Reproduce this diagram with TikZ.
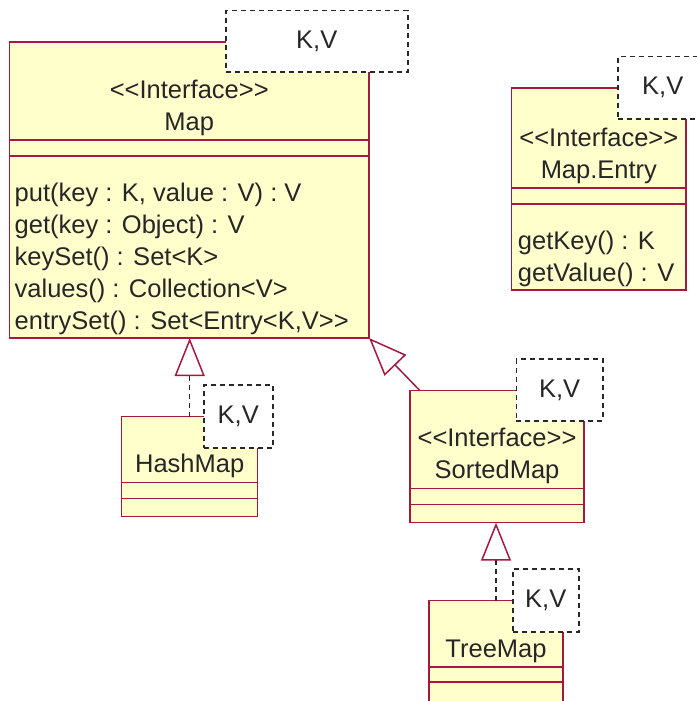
\documentclass[tikz,border=0pt]{standalone}
\usepackage{fontspec}
\setmainfont{Liberation Sans}
\usetikzlibrary{positioning,arrows.meta}
\definecolor{umlred}{RGB}{165,25,65}
\definecolor{umlfill}{RGB}{255,255,204}
\definecolor{tmplgray}{RGB}{40,40,40}
\tikzset{
  part/.style={draw=umlred, fill=umlfill, line width=1.5pt, inner sep=0pt, outer sep=0pt},
  cname/.style={anchor=south, align=center, inner xsep=0pt, inner ysep=4.5pt},
  ops/.style={anchor=south west, align=left, inner xsep=5pt, inner ysep=2.7pt},
  tparam/.style={draw=tmplgray, dash pattern=on 5pt off 4pt, line width=1.5pt, fill=white, anchor=north west, inner sep=0pt},
  realize/.style={draw=tmplgray, dash pattern=on 5pt off 4pt, line width=1.5pt, -{Triangle[length=38pt, width=30pt, color=umlred, fill=white]}},
  extends/.style={draw=umlred, line width=1.5pt, -{Triangle[length=38pt, width=30pt, fill=white]}}
}
\begin{document}
\begin{tikzpicture}[x=1pt, y=-1pt, font=\fontsize{25.5}{32}\selectfont, text=black!85]
  \useasboundingbox (0,0) rectangle (696,701);
  % Map
  \node(mapname)[part, anchor=north west, minimum width=359.5pt, minimum height=98pt] at (9.5,42) {};
  \node(mapattr)[part, below=0pt of mapname, minimum width=359.5pt, minimum height=16pt] {};
  \node(mapops)[part, below=0pt of mapattr, minimum width=359.5pt, minimum height=182pt] {};
  \node(maptitle)[cname] at (mapname.south) {<{}<Interface>{}>\\Map};
  \node(mapmeth)[ops] at (mapops.south west) {put(key : K, value : V) : V\\get(key : Object) : V\\keySet() : Set<K>\\values() : Collection<V>\\entrySet() : Set<Entry<K,V>{}>};
  \node(mapkv)[tparam, minimum width=182pt, minimum height=61pt] at (225,10) {K,V};
  % Map.Entry
  \node(entname)[part, anchor=north west, minimum width=174.3pt, minimum height=100pt] at (511.7,88) {};
  \node(entattr)[part, below=0pt of entname, minimum width=174.3pt, minimum height=16pt] {};
  \node(entops)[part, below=0pt of entattr, minimum width=174.3pt, minimum height=86pt] {};
  \node(enttitle)[cname] at (entname.south) {<{}<Interface>{}>\\Map.Entry};
  \node(entmeth)[ops, inner xsep=6pt] at (entops.south west) {getKey() : K\\getValue() : V};
  \node(entkv)[tparam, minimum width=90pt, minimum height=62pt] at (617,56) {K,V};
  % HashMap
  \node(hmname)[part, anchor=north west, minimum width=136pt, minimum height=66pt] at (121.7,416.7) {};
  \node(hmattr)[part, below=0pt of hmname, minimum width=136pt, minimum height=15.6pt] {};
  \node(hmops)[part, below=0pt of hmattr, minimum width=136pt, minimum height=18.4pt] {};
  \node(hmtitle)[cname] at (hmname.south) {HashMap};
  \node(hmkv)[tparam, minimum width=69pt, minimum height=63pt] at (203,384) {K,V};
  % SortedMap
  \node(smname)[part, anchor=north west, minimum width=174pt, minimum height=98pt] at (410,390.7) {};
  \node(smattr)[part, below=0pt of smname, minimum width=174pt, minimum height=15.6pt] {};
  \node(smops)[part, below=0pt of smattr, minimum width=174pt, minimum height=18.4pt] {};
  \node(smtitle)[cname] at (smname.south) {<{}<Interface>{}>\\SortedMap};
  \node(smkv)[tparam, minimum width=86.3pt, minimum height=61.7pt] at (515.7,358.3) {K,V};
  % TreeMap
  \node(tmname)[part, anchor=north west, minimum width=134pt, minimum height=66.3pt] at (429,600.7) {};
  \node(tmattr)[part, below=0pt of tmname, minimum width=134pt, minimum height=15pt] {};
  \node(tmops)[part, below=0pt of tmattr, minimum width=134pt, minimum height=20pt] {};
  \node(tmtitle)[cname] at (tmname.south) {TreeMap};
  \node(tmkv)[tparam, minimum width=66pt, minimum height=63pt] at (512,568) {K,V};
  % generalizations
  \draw[realize] (hmname.north) -- (hmname.north |- mapops.south);
  \draw[extends] ([xshift=10pt]smname.north west) -- (mapops.south east);
  \draw[realize] (tmname.north) -- (tmname.north |- smops.south);
\end{tikzpicture}
\end{document}
